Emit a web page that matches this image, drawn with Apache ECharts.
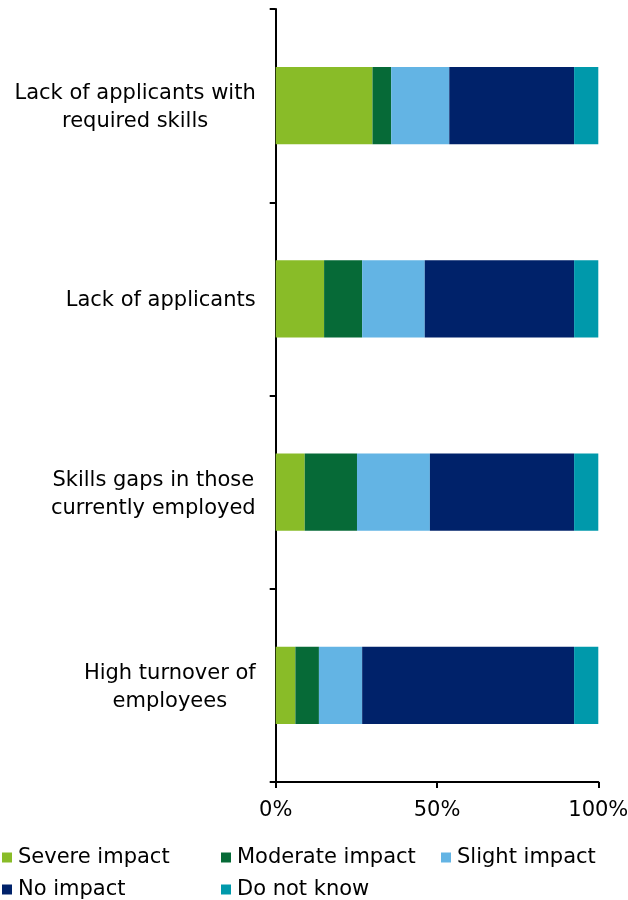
<!DOCTYPE html>
<html>
<head>
<meta charset="utf-8">
<style>
  html, body { margin: 0; padding: 0; background: #fff; }
  #chart { width: 628px; height: 900px; }
</style>
<script src="https://cdn.jsdelivr.net/npm/echarts@6/dist/echarts.min.js"></script>
</head>
<body>
<div id="chart"></div>
<script>
// Reasons for recruitment difficulties and their impact (share of respondents, %)
const categories = [
  'Lack of applicants with\nrequired skills',
  'Lack of applicants',
  'Skills gaps in those\ncurrently employed',
  'High turnover of\nemployees'
];
const severeImpact   = [30.0, 15.0,  9.0,  6.1];
const moderateImpact = [ 5.8, 11.8, 16.2,  7.3];
const slightImpact   = [18.0, 19.4, 22.6, 13.4];
const noImpact       = [38.7, 46.3, 44.7, 65.7];
const doNotKnow      = [ 7.5,  7.5,  7.5,  7.5];
const xTicks = [0, 50, 100];

const FONT = 'DejaVu Sans, Verdana, sans-serif';
const FONT_SIZE = 21;
const seriesDefs = [
  { name: 'Severe impact',   data: severeImpact,   color: '#89BC28' },
  { name: 'Moderate impact', data: moderateImpact, color: '#066A37' },
  { name: 'Slight impact',   data: slightImpact,   color: '#63B4E4' },
  { name: 'No impact',       data: noImpact,       color: '#00226A' },
  { name: 'Do not know',     data: doNotKnow,      color: '#0099AB' }
];

// legend laid out as a fixed grid: three columns, two rows
const legendSlots = [
  { left: 2,   top: 847 },
  { left: 221, top: 847 },
  { left: 441, top: 847 },
  { left: 2,   top: 879 },
  { left: 221, top: 879 }
];
const legends = seriesDefs.map((s, i) => ({
  left: legendSlots[i].left,
  top: legendSlots[i].top,
  padding: 0,
  itemWidth: 10,
  itemHeight: 10,
  icon: 'rect',
  selectedMode: false,
  data: [s.name],
  textStyle: { fontFamily: FONT, fontSize: FONT_SIZE, color: '#000', padding: [0, 0, 0, 1] }
}));

const chart = echarts.init(document.getElementById('chart'), null, { renderer: 'canvas' });
chart.setOption({
  animation: false,
  color: seriesDefs.map(s => s.color),
  grid: {
    left: 275.7, right: 29.7, top: 9, bottom: 118,
    containLabel: false, outerBoundsMode: 'none'
  },
  xAxis: {
    type: 'value',
    min: xTicks[0],
    max: xTicks[xTicks.length - 1],
    interval: xTicks[1] - xTicks[0],
    axisLine: { show: true, lineStyle: { color: '#000', width: 2 } },
    axisTick: { show: true, length: 6, lineStyle: { color: '#000', width: 2 } },
    splitLine: { show: false },
    axisLabel: {
      formatter: '{value}%',
      fontFamily: FONT, fontSize: FONT_SIZE, color: '#000', margin: 18
    }
  },
  yAxis: {
    type: 'category',
    data: categories,
    inverse: true,
    axisLine: { show: true, lineStyle: { color: '#000', width: 2 } },
    axisTick: { show: true, length: 6, inside: false, lineStyle: { color: '#000', width: 2 } },
    axisLabel: {
      color: '#000', margin: 20, align: 'right', padding: [4, 0, 0, 0],
      // each line centred inside the right-aligned label block
      formatter: v => v.split('\n').map(line => '{c|' + line + '}').join('\n'),
      rich: {
        c: { align: 'center', fontFamily: FONT, fontSize: FONT_SIZE, color: '#000', lineHeight: 28 }
      }
    }
  },
  legend: legends,
  series: seriesDefs.map(s => ({
    name: s.name,
    type: 'bar',
    stack: 'total',
    barCategoryGap: '60%',
    data: s.data,
    itemStyle: { color: s.color }
  }))
});
</script>
</body>
</html>
